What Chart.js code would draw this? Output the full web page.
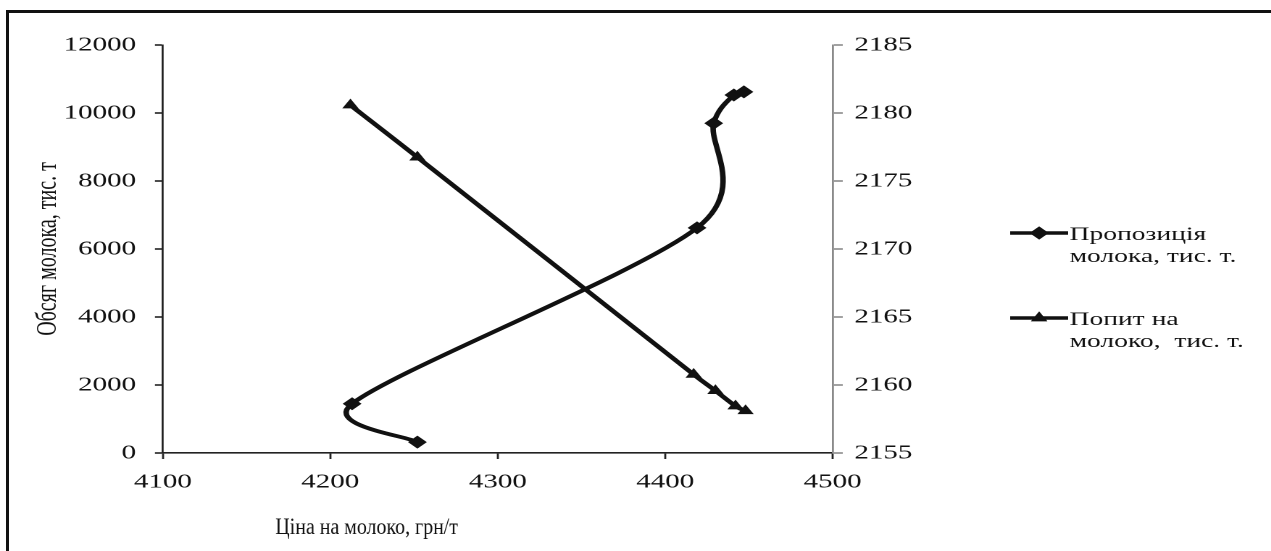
<!DOCTYPE html>
<html>
<head>
<meta charset="utf-8">
<script src="https://cdn.jsdelivr.net/npm/chart.js@4"></script>
<style>
  html, body { margin: 0; padding: 0; background: #fff; }
  body { width: 1271px; height: 551px; overflow: hidden; position: relative; }
  #frame {
    position: absolute; left: 6px; top: 10px; width: 1300px; height: 600px;
    border-left: 3px solid #111; border-top: 3px solid #111;
  }
  #wrap {
    position: absolute; left: 0; top: 0; width: 877px; height: 551px;
    transform: scaleX(1.4493); transform-origin: 0 0;
  }
</style>
</head>
<body>
<div id="frame"></div>
<div id="wrap"><canvas id="milk" width="877" height="551"></canvas></div>
<script>
// supply (diamonds)
const supplyPrice = [4252, 4213, 4419, 4429, 4441, 4447];
const supplyVolume = [320, 1450, 6620, 9700, 10530, 10620];
// demand (triangles)
const demandPrice = [4212, 4252, 4417, 4430, 4442, 4448];
const demandVolume = [10230, 8700, 2310, 1830, 1380, 1240];

const xTicks = [4100, 4200, 4300, 4400, 4500];
const yTicks = [0, 2000, 4000, 6000, 8000, 10000, 12000];
const y2Ticks = [2155, 2160, 2165, 2170, 2175, 2180, 2185];

const seriesNames = [
  ["Пропозиція", "молока, тис. т."],
  ["Попит на", "молоко,  тис. т."],
];
const xTitle = "Ціна на молоко, грн/т";
const yTitle = "Обсяг молока, тис. т";

const toPoints = (xs, ys) => xs.map((x, i) => ({ x: x, y: ys[i] }));
const serif = "'Liberation Serif', 'Times New Roman', serif";
const plain = (v) => String(v);

// excel-like smoothing: catmull-rom tangents (1/6 of neighbour span),
// each arm kept to half of its own segment
const smooth = {
  id: "smooth",
  beforeDatasetsDraw(chart) {
    chart.data.datasets.forEach(function (ds, i) {
      const meta = chart.getDatasetMeta(i);
      meta.dataset.updateControlPoints(chart.chartArea, "x");
      const pts = meta.data;
      const n = pts.length;
      const dist = (a, b) => Math.hypot(a.x - b.x, a.y - b.y);
      for (let k = 0; k < n; k++) {
        const p = pts[k];
        const prev = pts[Math.max(k - 1, 0)];
        const next = pts[Math.min(k + 1, n - 1)];
        const tx = (next.x - prev.x) / 6;
        const ty = (next.y - prev.y) / 6;
        const len = Math.hypot(tx, ty) || 1;
        const f1 = Math.min(1, (0.5 * dist(p, prev)) / len);
        const f2 = Math.min(1, (0.5 * dist(p, next)) / len);
        p.cp1x = p.x - tx * f1;
        p.cp1y = p.y - ty * f1;
        p.cp2x = p.x + tx * f2;
        p.cp2y = p.y + ty * f2;
      }
    });
  },
};

const extras = {
  id: "extras",
  afterDraw(chart) {
    const ctx = chart.ctx;
    ctx.save();
    // x axis title, narrow
    ctx.font = "23px " + serif;
    ctx.fillStyle = "#111";
    ctx.textAlign = "center";
    ctx.textBaseline = "middle";
    const w = ctx.measureText(xTitle).width;
    ctx.translate(253, 528);
    ctx.scale(126 / w, 1);
    ctx.fillText(xTitle, 0, 0);
    ctx.restore();

    // legend
    ctx.save();
    const rows = [233, 318];
    chart.data.datasets.forEach(function (ds, i) {
      const y = rows[i];
      ctx.strokeStyle = "#111";
      ctx.lineWidth = 3.5;
      ctx.beginPath();
      ctx.moveTo(697, y);
      ctx.lineTo(737, y);
      ctx.stroke();
      Chart.helpers.drawPoint(ctx, {
        pointStyle: ds.pointStyle,
        radius: ds.pointRadius,
        borderWidth: 0,
      }, 717, y);
      ctx.fillStyle = "#111";
      ctx.fill();
      ctx.font = "19px " + serif;
      ctx.textAlign = "left";
      ctx.textBaseline = "alphabetic";
      seriesNames[i].forEach(function (line, j) {
        ctx.fillText(line, 738, y + 7 + j * 22);
      });
    });
    ctx.restore();
  },
};

new Chart(document.getElementById("milk"), {
  type: "scatter",
  data: {
    datasets: [
      {
        label: seriesNames[0].join(" "),
        data: toPoints(supplyPrice, supplyVolume),
        showLine: true,
        borderColor: "#111",
        backgroundColor: "#111",
        borderWidth: 3.8,
        tension: 0.4,
        pointStyle: "rectRot",
        pointRadius: 6.5,
        pointBorderWidth: 0,
        yAxisID: "y",
      },
      {
        label: seriesNames[1].join(" "),
        data: toPoints(demandPrice, demandVolume),
        showLine: true,
        borderColor: "#111",
        backgroundColor: "#111",
        borderWidth: 3.8,
        tension: 0.4,
        pointStyle: "triangle",
        pointRadius: 6.5,
        pointBorderWidth: 0,
        yAxisID: "y",
      },
    ],
  },
  options: {
    responsive: false,
    animation: false,
    devicePixelRatio: 2,
    layout: { padding: { top: 45, left: 0, right: 0, bottom: 0 } },
    scales: {
      x: {
        type: "linear",
        min: xTicks[0],
        max: xTicks[xTicks.length - 1],
        afterBuildTicks: (s) => { s.ticks = xTicks.map((v) => ({ value: v })); },
        afterFit: (s) => { s.height = 98; },
        border: { color: "#222", width: 1.6 },
        grid: { drawOnChartArea: false, tickLength: 6, tickColor: "#222", tickWidth: 1.4 },
        ticks: { color: "#111", font: { family: serif, size: 20 }, padding: 11, maxRotation: 0, callback: plain },
      },
      y: {
        position: "left",
        min: yTicks[0],
        max: yTicks[yTicks.length - 1],
        afterBuildTicks: (s) => { s.ticks = yTicks.map((v) => ({ value: v })); },
        afterFit: (s) => { s.width = 112.4; },
        border: { color: "#222", width: 1.4 },
        grid: { drawOnChartArea: false, tickLength: 5.5, tickColor: "#222", tickWidth: 1.6 },
        ticks: { color: "#111", font: { family: serif, size: 20 }, padding: 13, callback: plain },
        title: {
          display: true,
          text: yTitle,
          color: "#111",
          font: { family: serif, size: 20 },
          padding: { top: 21, bottom: 0 },
        },
      },
      y1: {
        position: "right",
        min: y2Ticks[0],
        max: y2Ticks[y2Ticks.length - 1],
        afterBuildTicks: (s) => { s.ticks = y2Ticks.map((v) => ({ value: v })); },
        afterFit: (s) => { s.width = 302.5; },
        border: { color: "#8a8a8a", width: 1.4 },
        grid: { drawOnChartArea: false, tickLength: 7, tickColor: "#8a8a8a", tickWidth: 1.6 },
        ticks: { color: "#111", font: { family: serif, size: 20 }, padding: 8, callback: plain },
      },
    },
    plugins: {
      legend: { display: false },
      tooltip: { enabled: false },
    },
  },
  plugins: [smooth, extras],
});
</script>
</body>
</html>
